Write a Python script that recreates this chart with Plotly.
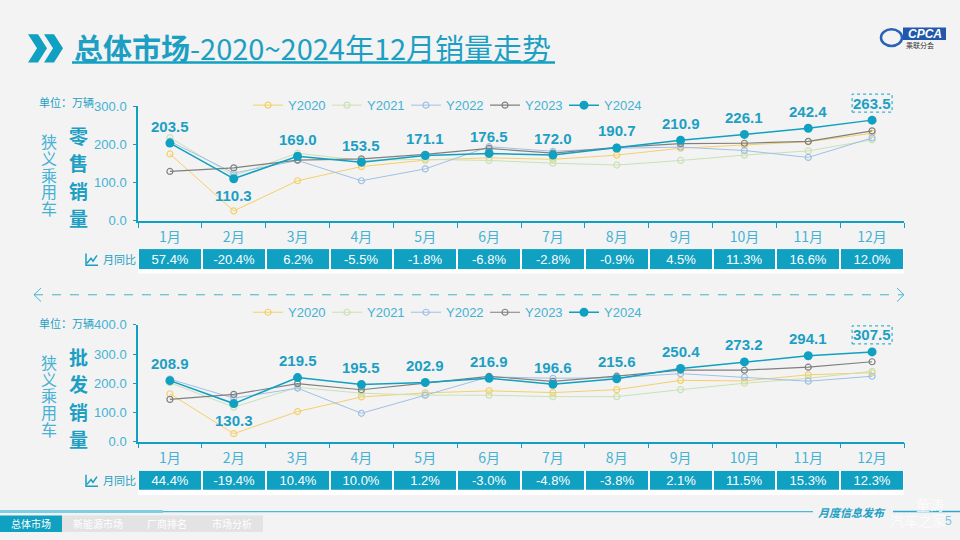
import plotly.graph_objects as go

# -----------------------------------------
# DATA (万辆)
# -----------------------------------------
months = ["1月", "2月", "3月", "4月", "5月", "6月", "7月", "8月", "9月", "10月", "11月", "12月"]
years = ["Y2020", "Y2021", "Y2022", "Y2023", "Y2024"]

# 零售销量
retail_2020 = [175, 26, 105, 142, 159, 165, 161, 172, 190, 198, 207, 229]
retail_2021 = [218, 118, 177, 158, 161, 158, 151, 146, 158, 172, 183, 212]
retail_2022 = [208, 125, 158, 105, 136, 194, 182, 190, 193, 184, 166, 217]
retail_2023 = [129.3, 138.6, 159.1, 162.4, 174.2, 189.4, 177.0, 192.4, 201.8, 203.1, 207.9, 235.3]
retail_2024 = [203.5, 110.3, 169.0, 153.5, 171.1, 176.5, 172.0, 190.7, 210.9, 226.1, 242.4, 263.5]
retail_yoy = ["57.4%", "-20.4%", "6.2%", "-5.5%", "-1.8%", "-6.8%",
              "-2.8%", "-0.9%", "4.5%", "11.3%", "16.6%", "12.0%"]

# 批发销量
wholesale_2020 = [164, 27, 103, 153, 167, 174, 168, 178, 210, 208, 229, 236]
wholesale_2021 = [202, 118, 186, 166, 159, 159, 154, 154, 178, 200, 217, 241]
wholesale_2022 = [214, 149, 183, 97, 159, 222, 217, 219, 233, 221, 207, 224]
wholesale_2023 = [144.7, 161.7, 198.8, 177.7, 200.5, 223.6, 206.5, 224.1, 245.3, 245.0, 255.1, 273.8]
wholesale_2024 = [208.9, 130.3, 219.5, 195.5, 202.9, 216.9, 196.6, 215.6, 250.4, 273.2, 294.1, 307.5]
wholesale_yoy = ["44.4%", "-19.4%", "10.4%", "10.0%", "1.2%", "-3.0%",
                 "-4.8%", "-3.8%", "2.1%", "11.5%", "15.3%", "12.3%"]

# -----------------------------------------
# STYLE
# -----------------------------------------
W, H = 960, 540
TEAL = "#10a0c2"
TEAL_TXT = "#1d9fc3"
TEAL_LIGHT = "#45b2d3"
BG = "#f3f3f3"
CN = "Noto Sans CJK SC"
LAT = "Liberation Sans, Arial, Noto Sans CJK SC"

year_styles = {
    "Y2020": dict(color="#f5cf68", width=1),
    "Y2021": dict(color="#c9e1b6", width=1),
    "Y2022": dict(color="#9fc0e6", width=1),
    "Y2023": dict(color="#808080", width=1.2),
    "Y2024": dict(color=TEAL, width=1.5),
}


def px(x):
    return x / W


def py(y):
    return 1 - y / H


annotations = []
shapes = []


def label(text, x, y, size, color=TEAL_TXT, family=CN, xanchor="center", pad=1):
    # pixel-placed text, anchored explicitly (auto anchors shift near the edges)
    annotations.append(dict(text=text, x=px(x), y=py(y), xref="paper", yref="paper",
                            xanchor=xanchor, yanchor="middle", showarrow=False,
                            borderpad=pad,
                            font=dict(size=size, color=color, family=family)))


fig = go.Figure()


def add_panel(series, yoy, xa, ya, ta, legend_name, ymax):
    for name, vals in zip(years, series):
        st = year_styles[name]
        if name == "Y2024":
            marker = dict(symbol="circle", size=9, color=st["color"])
        else:
            marker = dict(symbol="circle-open", size=6, color=st["color"],
                          line=dict(width=1.2))
        fig.add_trace(go.Scatter(
            x=months, y=vals, name=name, mode="lines+markers",
            line=dict(color=st["color"], width=st["width"]),
            marker=marker, xaxis=xa, yaxis=ya, legend=legend_name,
            hovertemplate="%{x}: %{y:.1f}<extra>" + name + "</extra>",
        ))
    # Y2024 value labels (2月 sits below its point)
    for m, v in zip(months, series[-1]):
        annotations.append(dict(
            x=m, y=v, xref=xa, yref=ya, text=f"<b>{v:.1f}</b>", showarrow=False,
            xanchor="center", yanchor="middle",
            yshift=-17 if m == "2月" else 17,
            font=dict(color=TEAL_TXT, size=15, family=LAT),
        ))
    # dashed box round the last value (domain refs so it is not clipped)
    shapes.append(dict(
        type="rect", xref=xa + " domain", yref=ya + " domain",
        xsizemode="pixel", ysizemode="pixel",
        xanchor=(len(months) - 0.5) / len(months), yanchor=series[-1][-1] / ymax,
        x0=-20, x1=20, y0=8, y1=26, line=dict(color=TEAL, width=1, dash="dot"),
    ))
    # 月同比 row
    fig.add_trace(go.Heatmap(
        x=months, y=["月同比"], z=[[1] * len(months)], text=[yoy],
        texttemplate="%{text}",
        textfont=dict(color="white", size=13, family=LAT),
        colorscale=[[0, TEAL], [1, TEAL]], showscale=False,
        xgap=2, xaxis=xa, yaxis=ta, hoverinfo="skip",
    ))


add_panel([retail_2020, retail_2021, retail_2022, retail_2023, retail_2024],
          retail_yoy, "x", "y", "y3", "legend", 300)
add_panel([wholesale_2020, wholesale_2021, wholesale_2022, wholesale_2023, wholesale_2024],
          wholesale_yoy, "x2", "y2", "y4", "legend2", 400)

# -----------------------------------------
# AXES
# -----------------------------------------
xcommon = dict(
    type="category", range=[-0.5, 11.5], domain=[px(138), px(904)],
    showline=True, linecolor=TEAL, linewidth=1.5, showgrid=False, zeroline=False,
    ticks="outside", tickson="boundaries", ticklen=5, tickcolor=TEAL,
    ticklabelstandoff=3,
    tickfont=dict(color=TEAL_LIGHT, size=14, family=CN), fixedrange=True,
)
ycommon = dict(
    showline=True, linecolor=TEAL, linewidth=1.5, showgrid=False, zeroline=False,
    ticks="outside", ticklen=3, tickcolor=TEAL, dtick=100, tickformat=".1f",
    ticklabelstandoff=4,
    tickfont=dict(color=TEAL_LIGHT, size=13, family=LAT), fixedrange=True,
)
fig.update_layout(
    xaxis=dict(**xcommon, anchor="y"),
    yaxis=dict(**ycommon, domain=[py(220), py(102)], range=[0, 300], anchor="x"),
    yaxis3=dict(domain=[py(270), py(249)], anchor="x", visible=False, fixedrange=True),
    xaxis2=dict(**xcommon, anchor="y2"),
    yaxis2=dict(**ycommon, domain=[py(447), py(327)], range=[0, 400], anchor="x2"),
    yaxis4=dict(domain=[py(497), py(477)], anchor="x2", visible=False, fixedrange=True),
)

legend_common = dict(
    orientation="h", xanchor="left", yanchor="middle",
    font=dict(color=TEAL_LIGHT, size=13, family=LAT),
    bgcolor="rgba(0,0,0,0)", itemwidth=30,
    entrywidth=34, entrywidthmode="pixels",
)
fig.update_layout(
    legend=dict(**legend_common, x=px(248), y=py(101)),
    legend2=dict(**legend_common, x=px(248), y=py(314)),
)

# -----------------------------------------
# DECORATION
# -----------------------------------------
# title chevrons + underline
for dx in (0, 16):
    x0 = 28 + dx
    path = (f"M {px(x0)} {py(28)} L {px(x0 + 10)} {py(28)} L {px(x0 + 19)} {py(42.5)} "
            f"L {px(x0 + 10)} {py(57)} L {px(x0)} {py(57)} L {px(x0 + 9)} {py(42.5)} Z")
    shapes.append(dict(type="path", xref="paper", yref="paper", path=path,
                       fillcolor=TEAL, line=dict(width=0)))
shapes.append(dict(type="line", xref="paper", yref="paper", x0=px(72), x1=px(555),
                   y0=py(57), y1=py(57), line=dict(color=TEAL, width=2.5)))
label("<b>总体市场</b>-2020~2024年12月销量走势", 72, 41, 29, xanchor="left")

# logo
shapes.append(dict(type="circle", xref="paper", yref="paper", x0=px(881), x1=px(902),
                   y0=py(40), y1=py(23), line=dict(color="#2a62b8", width=2.5)))
shapes.append(dict(type="rect", xref="paper", yref="paper", x0=px(903), x1=px(946),
                   y0=py(34), y1=py(21), fillcolor="#2158ad", line=dict(width=0)))
label("<b><i>CPCA</i></b>", 924.5, 27.5, 12, color="white", family=LAT)
label("乘联分会", 904, 39, 7, color="#333333", xanchor="left")

# white strips behind the 月同比 rows
for top in (249, 477):
    shapes.append(dict(type="rect", xref="paper", yref="paper", layer="below",
                       x0=px(138), x1=px(904), y0=py(top + 25), y1=py(top),
                       fillcolor="white", line=dict(width=0)))

# dashed separator arrow
shapes.append(dict(type="line", xref="paper", yref="paper", x0=px(34), x1=px(903),
                   y0=py(296), y1=py(296), line=dict(color=TEAL_LIGHT, width=1, dash="dash")))
shapes.append(dict(type="path", xref="paper", yref="paper",
                   path=f"M {px(41)} {py(289)} L {px(34)} {py(296)} L {px(41)} {py(303)}",
                   line=dict(color=TEAL_LIGHT, width=1)))
shapes.append(dict(type="path", xref="paper", yref="paper",
                   path=f"M {px(897)} {py(289)} L {px(904)} {py(296)} L {px(897)} {py(303)}",
                   line=dict(color=TEAL_LIGHT, width=1)))

# side labels for both panels
for unit_y, side_top, big, big_top in ((98, 138, "零售销量", 132),
                                       (325, 365, "批发销量", 359)):
    label("单位：万辆", 37, unit_y, 11, xanchor="left")
    for i, ch in enumerate("狭义乘用车"):
        label(ch, 48.5, side_top + i * 17.2, 16, color=TEAL_LIGHT, pad=0)
    for i, ch in enumerate(big):
        label(f"<b>{ch}</b>", 78.5, big_top + i * 28.3, 19, pad=0)

# 月同比 row captions with a small trend icon
for row_y in (259.5, 487):
    label("月同比", 101, row_y, 11, xanchor="left")
    icon = (f"M {px(86)} {py(row_y - 6)} L {px(86)} {py(row_y + 6)} L {px(98)} {py(row_y + 6)} "
            f"M {px(87)} {py(row_y + 4)} L {px(91)} {py(row_y - 1)} L {px(93)} {py(row_y + 2)} "
            f"L {px(97)} {py(row_y - 4)}")
    shapes.append(dict(type="path", xref="paper", yref="paper", path=icon,
                       line=dict(color=TEAL_TXT, width=1.5)))

# footer
shapes.append(dict(type="line", xref="paper", yref="paper", x0=0, x1=px(163),
                   y0=py(519), y1=py(519), line=dict(color="#7fcde3", width=3)))
shapes.append(dict(type="line", xref="paper", yref="paper", x0=px(163), x1=px(813),
                   y0=py(519), y1=py(519), line=dict(color="#4ab8d8", width=1.2)))
shapes.append(dict(type="line", xref="paper", yref="paper", x0=px(893), x1=1,
                   y0=py(519), y1=py(519), line=dict(color="#2aa8cf", width=1.5)))
label("<b><i>月度信息发布</i></b>", 852, 519, 11)
shapes.append(dict(type="rect", xref="paper", yref="paper", x0=0, x1=px(62),
                   y0=0, y1=py(523), fillcolor=TEAL, line=dict(width=0)))
shapes.append(dict(type="rect", xref="paper", yref="paper", x0=px(62), x1=px(263),
                   y0=0, y1=py(523), fillcolor="#e3e3e3", line=dict(width=0)))
for tab, tx in (("总体市场", 31), ("新能源市场", 98), ("厂商排名", 167), ("市场分析", 232)):
    label(tab, tx, 531, 10, color="white")
label("董涛", 930, 511, 14, color="#fbfbfb")
label("汽车之家", 918, 528, 14, color="#fbfbfb")
label("5", 948, 529, 12, color="#7fc3db", family=LAT)

fig.update_layout(
    width=W, height=H,
    margin=dict(l=0, r=0, t=0, b=0),
    paper_bgcolor=BG, plot_bgcolor="rgba(0,0,0,0)",
    shapes=shapes, annotations=annotations,
    font=dict(family=CN),
)

fig.write_html("out.html", config={"displayModeBar": False},
               post_script="document.body.style.margin='0';")
